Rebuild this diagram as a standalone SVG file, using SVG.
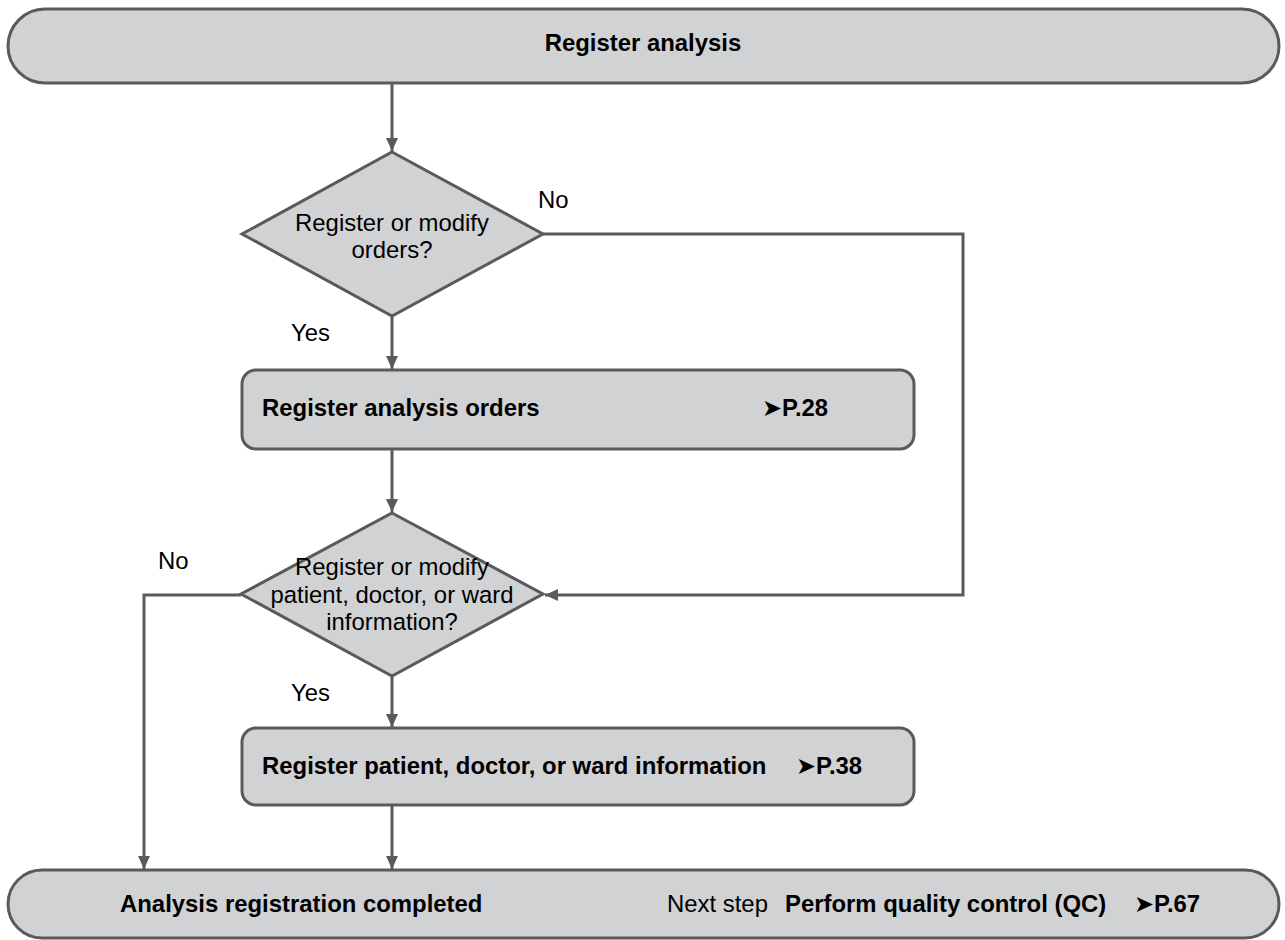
<svg xmlns="http://www.w3.org/2000/svg" width="1285" height="940" viewBox="0 0 1285 940">
  <style>
    .shape { fill: #d1d2d4; stroke: #5a5a5a; stroke-width: 3; }
    .conn { fill: none; stroke: #5a5a5a; stroke-width: 3; }
    text { font-family: "Liberation Sans", Arial, sans-serif; font-size: 23.9px; fill: #000; }
    .b { font-weight: bold; }
    .arr { font-family: "DejaVu Sans", "Liberation Sans", sans-serif; font-weight: bold; }
  </style>
  <defs>
    <marker id="ah" markerUnits="userSpaceOnUse" markerWidth="14" markerHeight="12" viewBox="0 0 14 12" refX="13" refY="6" orient="auto">
      <path d="M0,0 L13,6 L0,12 z" fill="#5a5a5a"/>
    </marker>
  </defs>

  <g id="connectors">
    <line class="conn" x1="392" y1="83" x2="392" y2="151" marker-end="url(#ah)"/>
    <line class="conn" x1="392" y1="317" x2="392" y2="369" marker-end="url(#ah)"/>
    <line class="conn" x1="392" y1="449" x2="392" y2="512" marker-end="url(#ah)"/>
    <polyline class="conn" points="543,234 963,234 963,595 545,595" marker-end="url(#ah)"/>
    <polyline class="conn" points="241,595 144,595 144,869" marker-end="url(#ah)"/>
    <line class="conn" x1="392" y1="676" x2="392" y2="727" marker-end="url(#ah)"/>
    <line class="conn" x1="392" y1="805" x2="392" y2="869" marker-end="url(#ah)"/>
  </g>

  <g id="start">
    <rect class="shape" x="8" y="9" width="1271" height="74" rx="37" ry="37"/>
    <text class="b" x="643" y="51" text-anchor="middle">Register analysis</text>
  </g>

  <g id="decision1">
    <polygon class="shape" points="392,152 543,234 392,316 242,234"/>
    <text x="392" y="231" text-anchor="middle">Register or modify</text>
    <text x="392" y="258" text-anchor="middle">orders?</text>
    <text x="538" y="208">No</text>
    <text x="291" y="341">Yes</text>
  </g>

  <g id="process1">
    <rect class="shape" x="242" y="370" width="672" height="79" rx="14" ry="14"/>
    <text class="b" x="262" y="416">Register analysis orders</text>
    <text class="b" x="762" y="416"><tspan class="arr">➤</tspan>P.28</text>
  </g>

  <g id="decision2">
    <polygon class="shape" points="392,513 543,594 392,676 241,594"/>
    <text x="392" y="575" text-anchor="middle">Register or modify</text>
    <text x="392" y="603" text-anchor="middle">patient, doctor, or ward</text>
    <text x="392" y="630" text-anchor="middle">information?</text>
    <text x="158" y="569">No</text>
    <text x="291" y="701">Yes</text>
  </g>

  <g id="process2">
    <rect class="shape" x="242" y="728" width="672" height="77" rx="14" ry="14"/>
    <text class="b" x="262" y="774">Register patient, doctor, or ward information</text>
    <text class="b" x="796" y="774"><tspan class="arr">➤</tspan>P.38</text>
  </g>

  <g id="end">
    <rect class="shape" x="8" y="870" width="1271" height="68" rx="34" ry="34"/>
    <text class="b" x="120" y="912">Analysis registration completed</text>
    <text x="667" y="912">Next step</text>
    <text class="b" x="785" y="912">Perform quality control (QC)</text>
    <text class="b" x="1134" y="912"><tspan class="arr">➤</tspan>P.67</text>
  </g>
</svg>
